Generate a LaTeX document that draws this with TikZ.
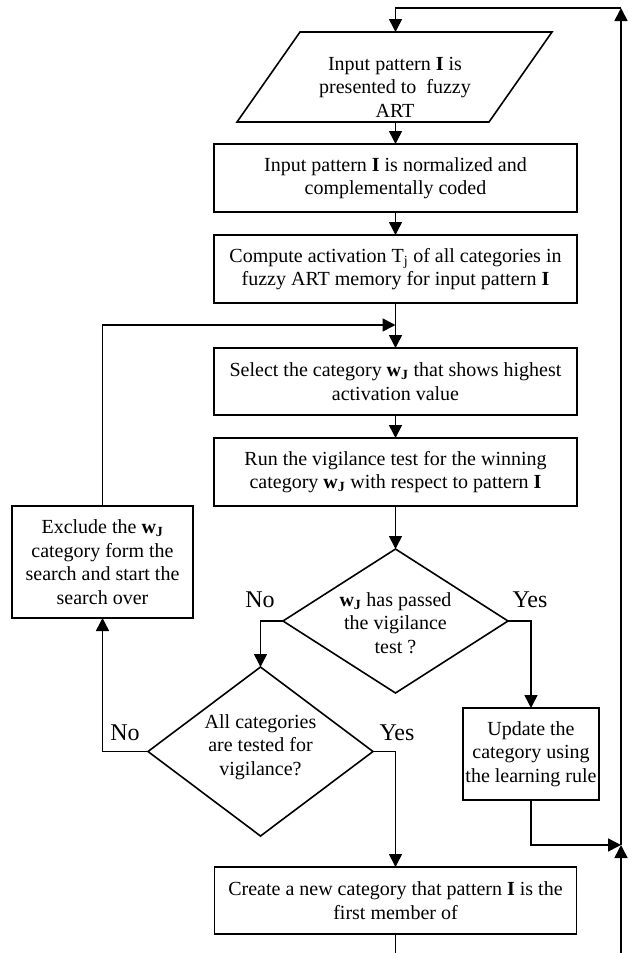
\documentclass[tikz,border=0pt]{standalone}
\usepackage{fontspec}
\setmainfont{Liberation Serif}
\usetikzlibrary{arrows.meta,shapes.geometric}
\begin{document}
\begin{tikzpicture}[x=1pt,y=-1pt,
 every node/.style={font=\fontsize{20}{23.5}\selectfont},
 box/.style={draw, line width=1.6pt, rectangle, inner sep=0pt, outer sep=0pt, align=center, minimum width=363pt, minimum height=68pt},
 dia/.style={draw, diamond, line width=1.6pt, inner sep=0pt, outer sep=0pt, minimum width=225pt},
 txt/.style={align=center, inner sep=0pt},
 lbl/.style={font=\fontsize{24}{28}\selectfont, anchor=base, inner sep=0pt},
 line/.style={line width=1.6pt},
 arr/.style={line width=1.6pt, -{Triangle[length=13pt,width=13pt]}}]
\useasboundingbox (0,0) rectangle (629,953);

% parallelogram
\draw[line, line join=miter] (300,32) -- (552,32) -- (489,122) -- (237,122) -- cycle;
\coordinate (pT) at (395.5,32);
\coordinate (pB) at (395.5,122);
\node[txt] (p) at (395,87) {Input pattern \textbf{I} is\\presented to\ \ fuzzy\\ART};

\node[box] (b2) at (395.5,178) {Input pattern \textbf{I} is normalized and\\complementally coded};
\node[box] (b3) at (395.5,269) {Compute activation T\textsubscript{j} of all categories in\\fuzzy ART memory for input pattern \textbf{I}};
\node[box, minimum height=67pt] (b4) at (395.5,381.5) {Select the category \textbf{w}\textsubscript{\textbf{J}} that shows highest\\activation value};
\node[box] (b5) at (395.5,472) {Run the vigilance test for the winning\\category \textbf{w}\textsubscript{\textbf{J}} with respect to pattern \textbf{I}};

\node[dia, minimum height=144pt] (d1) at (395.5,621) {};
\node[txt] (d1t) at (395.5,623) {\textbf{w}\textsubscript{\textbf{J}} has passed\\the vigilance\\test ?};
\node[dia, minimum height=169pt] (d2) at (260.5,751.5) {};
\node[txt] (d2t) at (260.5,747) {All categories\\are tested for\\vigilance?};

\node[box, minimum width=181pt, minimum height=112pt] (ex) at (102.5,562) {Exclude the \textbf{w}\textsubscript{\textbf{J}}\\category form the\\search and start the\\search over};
\node[box, minimum width=136pt, minimum height=92pt] (up) at (531,754) {Update the\\category using\\the learning rule};
\node[box, minimum width=362pt, minimum height=67pt] (cr) at (395.5,900.5) {Create a new category that pattern \textbf{I} is the\\first member of};

\node[lbl] (n1) at (260,607) {No};
\node[lbl] (y1) at (530,607) {Yes};
\node[lbl] (n2) at (125,740) {No};
\node[lbl] (y2) at (397,740) {Yes};

\coordinate (TR) at (621,8);
\coordinate (TL) at (395.5,8);
\coordinate (J1) at (621,845);
\coordinate (J2) at (395.5,325);
\coordinate (BR) at (621,953);
\coordinate (BM) at (395.5,953);

\draw[arr] (TR) -- (TL) -- (pT);
\draw[arr] (pB) -- (b2.north);
\draw[arr] (b2.south) -- (b3.north);
\draw[arr] (b3.south) -- (b4.north);
\draw[arr] (ex.north) |- (J2);
\draw[arr] (b4.south) -- (b5.north);
\draw[arr] (b5.south) -- (d1.north);
\draw[arr] (d1.west) -| (d2.north);
\draw[arr] (d1.east) -| (up.north);
\draw[arr] (d2.west) -| (ex.south);
\draw[arr] (d2.east) -| (cr.north);
\draw[arr] (up.south) |- (J1);
\draw[arr] (BR) -- (J1);
\draw[arr] (J1) -- (TR);
\draw[line] (cr.south) -- (BM);
\end{tikzpicture}
\end{document}
